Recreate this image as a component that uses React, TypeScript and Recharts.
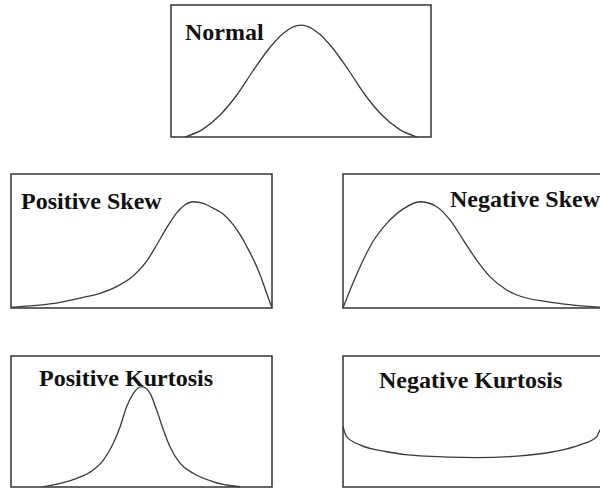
import React from 'react';
import { LineChart, Line, XAxis, YAxis, ReferenceArea } from 'recharts';

// curve points, in percent of each box (x left->right, y bottom->top)
const normalX = [5.4, 12.3, 18.8, 25.4, 31.5, 38.1, 43.1, 50, 56.9, 61.9, 68.5, 74.6, 81.2, 87.7, 94.6];
const normalY = [0, 6, 16.5, 32, 50, 68, 78.5, 84.8, 78.5, 68, 50, 32, 16.5, 6, 0];

const posSkewX = [0, 14.9, 27.7, 34.1, 40.5, 46.9, 52, 55.8, 59.7, 63.5, 66.7, 69.8, 73.7, 77.5, 81.4, 85.2, 88, 90.3, 92.7, 95.4, 97.5, 100];
const posSkewY = [0.5, 3, 8, 11, 16, 24, 35, 47, 60, 71, 77, 79.3, 78, 74.4, 70, 62, 54, 46, 37, 25, 13.5, 0];

const negSkewX = [0, 3.9, 7.8, 11.6, 16.7, 23.1, 29.5, 35.9, 41, 46.1, 51.2, 56.3, 62.7, 66.6, 78, 88.2, 100];
const negSkewY = [0, 19, 36, 50, 63, 74, 79.3, 75.6, 65.7, 50.7, 35.8, 23.4, 13.4, 9.7, 4.7, 2.2, 0.4];

const posKurtX = [12.4, 18.8, 25.2, 31.5, 35.4, 39.2, 41.8, 44.3, 46.9, 50.1, 53.3, 55.8, 58.4, 60.9, 64.8, 69.8, 77.5, 87.7];
const posKurtY = [0.2, 2.8, 6.6, 13, 20.6, 33.4, 46, 61.3, 71.5, 76.6, 71.5, 58.8, 43.5, 30.8, 18.1, 10.5, 4, 0.2];

const negKurtX = [0, 1.4, 6.5, 16.7, 29.5, 51.2, 67.8, 80.6, 90.8, 97.2, 98.5, 100];
const negKurtY = [46, 38.4, 32.1, 26.9, 23.7, 22.4, 23.7, 26.9, 32.1, 38.4, 43.5, 46.5];

const labels = ['Normal', 'Positive Skew', 'Negative Skew', 'Positive Kurtosis', 'Negative Kurtosis'];

const toRows = (xs: number[], ys: number[]) => xs.map((x, i) => ({ x, y: ys[i] }));

const PAD = 2; // room so the box stroke is not clipped

interface BoxProps {
  left: number;
  top: number;
  width: number;
  height: number;
  xs: number[];
  ys: number[];
}

const DistBox = ({ left, top, width, height, xs, ys }: BoxProps) => (
  <div style={{ position: 'absolute', left: left - PAD, top: top - PAD }}>
    <LineChart
      width={width + PAD * 2}
      height={height + PAD * 2}
      data={toRows(xs, ys)}
      margin={{ top: PAD, right: PAD, bottom: PAD, left: PAD }}
    >
      <XAxis type="number" dataKey="x" domain={[0, 100]} hide />
      <YAxis type="number" domain={[0, 100]} hide />
      <ReferenceArea x1={0} x2={100} y1={0} y2={100} fill="none" stroke="#333" strokeWidth={1.5} ifOverflow="visible" />
      <Line
        type="monotone"
        dataKey="y"
        stroke="#3a3a3a"
        strokeWidth={1.3}
        dot={false}
        isAnimationActive={false}
      />
    </LineChart>
  </div>
);

const textStyle = {
  fontFamily: "'Liberation Serif', 'Times New Roman', serif",
  fontWeight: 700,
  fontSize: 24,
  fill: '#111',
};

export default function App() {
  return (
    <div style={{ position: 'fixed', left: 0, top: 0, width: 600, height: 489, background: '#fff', overflow: 'hidden' }}>
      <DistBox left={171} top={5} width={260} height={132} xs={normalX} ys={normalY} />
      <DistBox left={11} top={174} width={261} height={134} xs={posSkewX} ys={posSkewY} />
      <DistBox left={343} top={174} width={261} height={134} xs={negSkewX} ys={negSkewY} />
      <DistBox left={11} top={356} width={261} height={131} xs={posKurtX} ys={posKurtY} />
      <DistBox left={343} top={356} width={261} height={131} xs={negKurtX} ys={negKurtY} />
      <svg width={600} height={489} style={{ position: 'absolute', left: 0, top: 0, pointerEvents: 'none' }}>
        <text x={185} y={40} style={textStyle}>{labels[0]}</text>
        <text x={21} y={209} style={textStyle}>{labels[1]}</text>
        <text x={450} y={207} style={textStyle}>{labels[2]}</text>
        <text x={39} y={386} style={textStyle}>{labels[3]}</text>
        <text x={379} y={388} style={textStyle}>{labels[4]}</text>
      </svg>
    </div>
  );
}
